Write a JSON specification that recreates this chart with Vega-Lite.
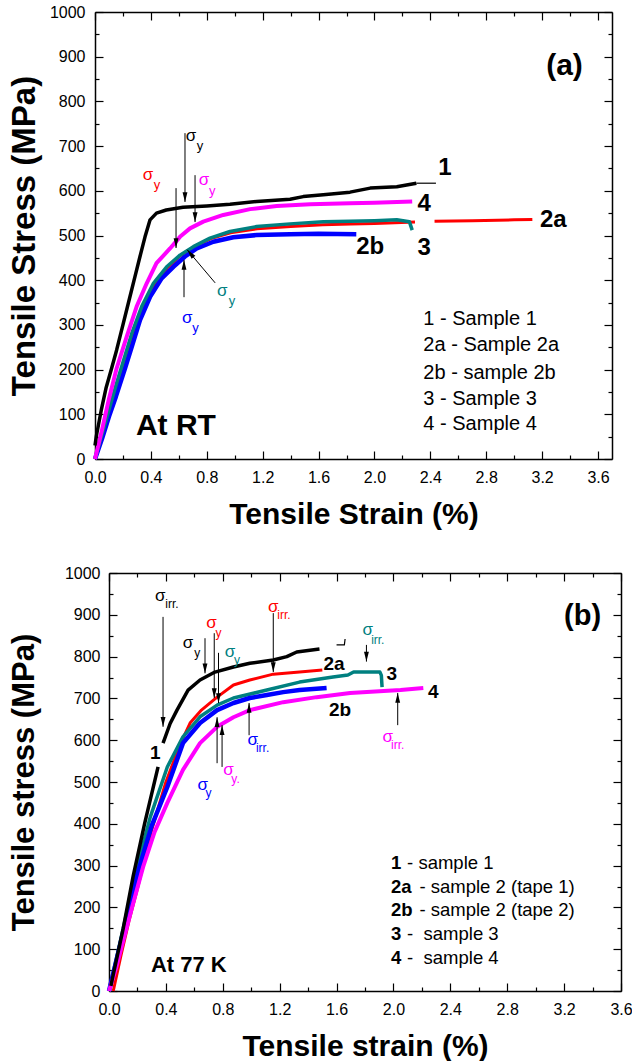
{
"$schema": "https://vega.github.io/schema/vega-lite/v6.json",
"padding": {"left": 1, "top": 4, "right": 0, "bottom": 0},
"background": "white",
"config": {"font": "Liberation Sans", "view": {"stroke": null},
  "axis": {"grid": false, "domainColor": "black", "tickColor": "black", "labelColor": "black", "titleColor": "black", "labelFont": "Liberation Sans", "titleFont": "Liberation Sans", "domainWidth": 1.5, "tickWidth": 1.2},
  "text": {"font": "Liberation Sans"}},
"datasets": {
"curves": [
{"p":"a","s":"2a","g":"2a","x":0,"y":0},{"p":"a","s":"2a","g":"2a","x":0.05,"y":45},{"p":"a","s":"2a","g":"2a","x":0.1,"y":100},{"p":"a","s":"2a","g":"2a","x":0.15,"y":155},{"p":"a","s":"2a","g":"2a","x":0.203,"y":207},{"p":"a","s":"2a","g":"2a","x":0.27,"y":275},{"p":"a","s":"2a","g":"2a","x":0.34,"y":335},{"p":"a","s":"2a","g":"2a","x":0.43,"y":390},{"p":"a","s":"2a","g":"2a","x":0.52,"y":428},{"p":"a","s":"2a","g":"2a","x":0.61,"y":455},{"p":"a","s":"2a","g":"2a","x":0.71,"y":475},{"p":"a","s":"2a","g":"2a","x":0.83,"y":493},{"p":"a","s":"2a","g":"2a","x":0.97,"y":506},{"p":"a","s":"2a","g":"2a","x":1.16,"y":515},{"p":"a","s":"2a","g":"2a","x":1.4,"y":520},{"p":"a","s":"2a","g":"2a","x":1.63,"y":524},{"p":"a","s":"2a","g":"2a","x":1.83,"y":526},{"p":"a","s":"2a","g":"2a","x":2.0,"y":527},{"p":"a","s":"2a","g":"2a","x":2.29,"y":530},
{"p":"a","s":"2a","g":"2a2","x":2.43,"y":532},{"p":"a","s":"2a","g":"2a2","x":2.7,"y":533},{"p":"a","s":"2a","g":"2a2","x":3.0,"y":535},{"p":"a","s":"2a","g":"2a2","x":3.13,"y":536},
{"p":"a","s":"2b","g":"2b","x":0,"y":0},{"p":"a","s":"2b","g":"2b","x":0.05,"y":45},{"p":"a","s":"2b","g":"2b","x":0.1,"y":95},{"p":"a","s":"2b","g":"2b","x":0.15,"y":140},{"p":"a","s":"2b","g":"2b","x":0.215,"y":203},{"p":"a","s":"2b","g":"2b","x":0.263,"y":251},{"p":"a","s":"2b","g":"2b","x":0.322,"y":311},{"p":"a","s":"2b","g":"2b","x":0.394,"y":363},{"p":"a","s":"2b","g":"2b","x":0.477,"y":404},{"p":"a","s":"2b","g":"2b","x":0.561,"y":430},{"p":"a","s":"2b","g":"2b","x":0.644,"y":453},{"p":"a","s":"2b","g":"2b","x":0.728,"y":471},{"p":"a","s":"2b","g":"2b","x":0.847,"y":486},{"p":"a","s":"2b","g":"2b","x":0.99,"y":496},{"p":"a","s":"2b","g":"2b","x":1.157,"y":501},{"p":"a","s":"2b","g":"2b","x":1.396,"y":503},{"p":"a","s":"2b","g":"2b","x":1.6,"y":504},{"p":"a","s":"2b","g":"2b","x":1.87,"y":503},
{"p":"a","s":"3","g":"3","x":0,"y":0},{"p":"a","s":"3","g":"3","x":0.05,"y":55},{"p":"a","s":"3","g":"3","x":0.1,"y":110},{"p":"a","s":"3","g":"3","x":0.15,"y":165},{"p":"a","s":"3","g":"3","x":0.191,"y":207},{"p":"a","s":"3","g":"3","x":0.263,"y":281},{"p":"a","s":"3","g":"3","x":0.334,"y":341},{"p":"a","s":"3","g":"3","x":0.418,"y":393},{"p":"a","s":"3","g":"3","x":0.513,"y":430},{"p":"a","s":"3","g":"3","x":0.608,"y":456},{"p":"a","s":"3","g":"3","x":0.704,"y":475},{"p":"a","s":"3","g":"3","x":0.823,"y":494},{"p":"a","s":"3","g":"3","x":0.966,"y":509},{"p":"a","s":"3","g":"3","x":1.157,"y":520},{"p":"a","s":"3","g":"3","x":1.396,"y":526},{"p":"a","s":"3","g":"3","x":1.634,"y":531},{"p":"a","s":"3","g":"3","x":1.825,"y":532},{"p":"a","s":"3","g":"3","x":2.0,"y":533},{"p":"a","s":"3","g":"3","x":2.16,"y":535},{"p":"a","s":"3","g":"3","x":2.25,"y":531},{"p":"a","s":"3","g":"3","x":2.27,"y":512},
{"p":"a","s":"4","g":"4","x":0,"y":0},{"p":"a","s":"4","g":"4","x":0.05,"y":65},{"p":"a","s":"4","g":"4","x":0.1,"y":135},{"p":"a","s":"4","g":"4","x":0.155,"y":203},{"p":"a","s":"4","g":"4","x":0.227,"y":274},{"p":"a","s":"4","g":"4","x":0.298,"y":341},{"p":"a","s":"4","g":"4","x":0.37,"y":393},{"p":"a","s":"4","g":"4","x":0.44,"y":438},{"p":"a","s":"4","g":"4","x":0.537,"y":471},{"p":"a","s":"4","g":"4","x":0.608,"y":497},{"p":"a","s":"4","g":"4","x":0.68,"y":516},{"p":"a","s":"4","g":"4","x":0.775,"y":531},{"p":"a","s":"4","g":"4","x":0.918,"y":546},{"p":"a","s":"4","g":"4","x":1.11,"y":559},{"p":"a","s":"4","g":"4","x":1.3,"y":566},{"p":"a","s":"4","g":"4","x":1.54,"y":570},{"p":"a","s":"4","g":"4","x":1.825,"y":572},{"p":"a","s":"4","g":"4","x":2.0,"y":573},{"p":"a","s":"4","g":"4","x":2.27,"y":576},
{"p":"a","s":"1","g":"1","x":0,"y":30},{"p":"a","s":"1","g":"1","x":0.01,"y":52},{"p":"a","s":"1","g":"1","x":0.044,"y":108},{"p":"a","s":"1","g":"1","x":0.08,"y":160},{"p":"a","s":"1","g":"1","x":0.119,"y":203},{"p":"a","s":"1","g":"1","x":0.155,"y":244},{"p":"a","s":"1","g":"1","x":0.203,"y":304},{"p":"a","s":"1","g":"1","x":0.25,"y":363},{"p":"a","s":"1","g":"1","x":0.286,"y":408},{"p":"a","s":"1","g":"1","x":0.322,"y":453},{"p":"a","s":"1","g":"1","x":0.358,"y":497},{"p":"a","s":"1","g":"1","x":0.394,"y":535},{"p":"a","s":"1","g":"1","x":0.44,"y":550},{"p":"a","s":"1","g":"1","x":0.51,"y":557},{"p":"a","s":"1","g":"1","x":0.63,"y":563},{"p":"a","s":"1","g":"1","x":0.8,"y":566},{"p":"a","s":"1","g":"1","x":0.966,"y":570},{"p":"a","s":"1","g":"1","x":1.157,"y":576},{"p":"a","s":"1","g":"1","x":1.396,"y":581},{"p":"a","s":"1","g":"1","x":1.49,"y":587},{"p":"a","s":"1","g":"1","x":1.634,"y":591},{"p":"a","s":"1","g":"1","x":1.825,"y":597},{"p":"a","s":"1","g":"1","x":1.97,"y":606},{"p":"a","s":"1","g":"1","x":2.16,"y":609},{"p":"a","s":"1","g":"1","x":2.3,"y":617},
{"p":"a","s":"1","g":"1t","x":2.3,"y":617},{"p":"a","s":"1","g":"1t","x":2.44,"y":617},
{"p":"b","s":"2a","g":"2a","x":0.03,"y":0},{"p":"b","s":"2a","g":"2a","x":0.085,"y":86},{"p":"b","s":"2a","g":"2a","x":0.14,"y":167},{"p":"b","s":"2a","g":"2a","x":0.2,"y":245},{"p":"b","s":"2a","g":"2a","x":0.3,"y":385},{"p":"b","s":"2a","g":"2a","x":0.4,"y":500},{"p":"b","s":"2a","g":"2a","x":0.5,"y":590},{"p":"b","s":"2a","g":"2a","x":0.57,"y":641},{"p":"b","s":"2a","g":"2a","x":0.65,"y":672},{"p":"b","s":"2a","g":"2a","x":0.76,"y":703},{"p":"b","s":"2a","g":"2a","x":0.875,"y":732},{"p":"b","s":"2a","g":"2a","x":0.99,"y":744},{"p":"b","s":"2a","g":"2a","x":1.155,"y":758},{"p":"b","s":"2a","g":"2a","x":1.34,"y":763},{"p":"b","s":"2a","g":"2a","x":1.5,"y":768},
{"p":"b","s":"3","g":"3","x":0,"y":0},{"p":"b","s":"3","g":"3","x":0.05,"y":75},{"p":"b","s":"3","g":"3","x":0.1,"y":150},{"p":"b","s":"3","g":"3","x":0.197,"y":297},{"p":"b","s":"3","g":"3","x":0.29,"y":416},{"p":"b","s":"3","g":"3","x":0.41,"y":536},{"p":"b","s":"3","g":"3","x":0.52,"y":608},{"p":"b","s":"3","g":"3","x":0.64,"y":656},{"p":"b","s":"3","g":"3","x":0.76,"y":684},{"p":"b","s":"3","g":"3","x":0.875,"y":701},{"p":"b","s":"3","g":"3","x":1.11,"y":720},{"p":"b","s":"3","g":"3","x":1.34,"y":739},{"p":"b","s":"3","g":"3","x":1.575,"y":751},{"p":"b","s":"3","g":"3","x":1.68,"y":756},{"p":"b","s":"3","g":"3","x":1.72,"y":763},{"p":"b","s":"3","g":"3","x":1.905,"y":763},{"p":"b","s":"3","g":"3","x":1.915,"y":755},{"p":"b","s":"3","g":"3","x":1.92,"y":727},
{"p":"b","s":"2b","g":"2b","x":0,"y":0},{"p":"b","s":"2b","g":"2b","x":0.1,"y":140},{"p":"b","s":"2b","g":"2b","x":0.2,"y":280},{"p":"b","s":"2b","g":"2b","x":0.3,"y":395},{"p":"b","s":"2b","g":"2b","x":0.41,"y":488},{"p":"b","s":"2b","g":"2b","x":0.52,"y":593},{"p":"b","s":"2b","g":"2b","x":0.64,"y":641},{"p":"b","s":"2b","g":"2b","x":0.76,"y":672},{"p":"b","s":"2b","g":"2b","x":0.875,"y":689},{"p":"b","s":"2b","g":"2b","x":0.99,"y":701},{"p":"b","s":"2b","g":"2b","x":1.11,"y":708},{"p":"b","s":"2b","g":"2b","x":1.225,"y":715},{"p":"b","s":"2b","g":"2b","x":1.34,"y":720},{"p":"b","s":"2b","g":"2b","x":1.53,"y":725},
{"p":"b","s":"4","g":"4","x":0,"y":0},{"p":"b","s":"4","g":"4","x":0.05,"y":55},{"p":"b","s":"4","g":"4","x":0.1,"y":120},{"p":"b","s":"4","g":"4","x":0.17,"y":210},{"p":"b","s":"4","g":"4","x":0.24,"y":297},{"p":"b","s":"4","g":"4","x":0.32,"y":380},{"p":"b","s":"4","g":"4","x":0.41,"y":450},{"p":"b","s":"4","g":"4","x":0.52,"y":529},{"p":"b","s":"4","g":"4","x":0.64,"y":593},{"p":"b","s":"4","g":"4","x":0.76,"y":632},{"p":"b","s":"4","g":"4","x":0.875,"y":655},{"p":"b","s":"4","g":"4","x":0.99,"y":672},{"p":"b","s":"4","g":"4","x":1.225,"y":691},{"p":"b","s":"4","g":"4","x":1.46,"y":703},{"p":"b","s":"4","g":"4","x":1.695,"y":713},{"p":"b","s":"4","g":"4","x":2.05,"y":720},{"p":"b","s":"4","g":"4","x":2.21,"y":725},
{"p":"b","s":"1","g":"1","x":0.013,"y":12},{"p":"b","s":"1","g":"1","x":0.1,"y":150},{"p":"b","s":"1","g":"1","x":0.17,"y":275},{"p":"b","s":"1","g":"1","x":0.25,"y":400},{"p":"b","s":"1","g":"1","x":0.345,"y":536},
{"p":"b","s":"1","g":"1b","x":0.38,"y":593},{"p":"b","s":"1","g":"1b","x":0.43,"y":640},{"p":"b","s":"1","g":"1b","x":0.478,"y":672},{"p":"b","s":"1","g":"1b","x":0.556,"y":720},{"p":"b","s":"1","g":"1b","x":0.64,"y":744},{"p":"b","s":"1","g":"1b","x":0.745,"y":763},{"p":"b","s":"1","g":"1b","x":0.875,"y":775},{"p":"b","s":"1","g":"1b","x":0.99,"y":784},{"p":"b","s":"1","g":"1b","x":1.155,"y":792},{"p":"b","s":"1","g":"1b","x":1.25,"y":800},{"p":"b","s":"1","g":"1b","x":1.32,"y":811},{"p":"b","s":"1","g":"1b","x":1.48,"y":818},
{"p":"b","s":"1","g":"1t","x":1.6,"y":828},{"p":"b","s":"1","g":"1t","x":1.655,"y":828},{"p":"b","s":"1","g":"1t","x":1.66,"y":842}
],
"arrows": [
{"p":"a","x":0.644,"y":729,"x2":0.644,"y2":575,"d":"down"},
{"p":"a","x":0.58,"y":606,"x2":0.58,"y2":472,"d":"down"},
{"p":"a","x":0.716,"y":635,"x2":0.716,"y2":530,"d":"down"},
{"p":"a","x":0.86,"y":394,"x2":0.66,"y2":468,"d":"ul"},
{"p":"a","x":0.637,"y":362,"x2":0.637,"y2":445,"d":"up"},
{"p":"b","x":0.38,"y":895,"x2":0.38,"y2":632,"d":"down"},
{"p":"b","x":0.675,"y":844,"x2":0.675,"y2":760,"d":"down"},
{"p":"b","x":0.74,"y":856,"x2":0.74,"y2":701,"d":"down"},
{"p":"b","x":0.77,"y":809,"x2":0.77,"y2":689,"d":"down"},
{"p":"b","x":1.155,"y":904,"x2":1.155,"y2":763,"d":"down"},
{"p":"b","x":1.81,"y":828,"x2":1.81,"y2":788,"d":"down"},
{"p":"b","x":2.03,"y":636,"x2":2.03,"y2":713,"d":"up"},
{"p":"b","x":0.76,"y":545,"x2":0.76,"y2":655,"d":"up"},
{"p":"b","x":0.795,"y":536,"x2":0.795,"y2":636,"d":"up"},
{"p":"b","x":0.985,"y":612,"x2":0.985,"y2":689,"d":"up"}
],
"sig": [
{"p":"a","s":"1","k":"m","x":0.687,"y":723,"t":"σ"},{"p":"a","s":"1","k":"s","x":0.752,"y":701,"t":"y"},
{"p":"a","s":"2a","k":"m","x":0.38,"y":635,"t":"σ"},{"p":"a","s":"2a","k":"s","x":0.444,"y":613,"t":"y"},
{"p":"a","s":"4","k":"m","x":0.78,"y":624,"t":"σ"},{"p":"a","s":"4","k":"s","x":0.84,"y":600,"t":"y"},
{"p":"a","s":"3","k":"m","x":0.91,"y":376,"t":"σ"},{"p":"a","s":"3","k":"s","x":0.98,"y":353,"t":"y"},
{"p":"a","s":"2b","k":"m","x":0.66,"y":315,"t":"σ"},{"p":"a","s":"2b","k":"s","x":0.72,"y":293,"t":"y"},
{"p":"b","s":"1","k":"m","x":0.36,"y":945,"t":"σ"},{"p":"b","s":"1","k":"s","x":0.443,"y":926,"t":"irr."},
{"p":"b","s":"1","k":"m","x":0.556,"y":832,"t":"σ"},{"p":"b","s":"1","k":"s","x":0.62,"y":809,"t":"y"},
{"p":"b","s":"2a","k":"m","x":0.72,"y":880,"t":"σ"},{"p":"b","s":"2a","k":"s","x":0.77,"y":856,"t":"y"},
{"p":"b","s":"3","k":"m","x":0.85,"y":811,"t":"σ"},{"p":"b","s":"3","k":"s","x":0.9,"y":792,"t":"y"},
{"p":"b","s":"2a","k":"m","x":1.155,"y":919,"t":"σ"},{"p":"b","s":"2a","k":"s","x":1.23,"y":900,"t":"irr."},
{"p":"b","s":"3","k":"m","x":1.82,"y":864,"t":"σ"},{"p":"b","s":"3","k":"s","x":1.89,"y":840,"t":"irr."},
{"p":"b","s":"4","k":"m","x":1.96,"y":608,"t":"σ"},{"p":"b","s":"4","k":"s","x":2.03,"y":589,"t":"irr."},
{"p":"b","s":"2b","k":"m","x":0.66,"y":493,"t":"σ"},{"p":"b","s":"2b","k":"s","x":0.7,"y":474,"t":"y"},
{"p":"b","s":"4","k":"m","x":0.84,"y":529,"t":"σ"},{"p":"b","s":"4","k":"s","x":0.89,"y":507,"t":"y."},
{"p":"b","s":"2b","k":"m","x":1.01,"y":600,"t":"σ"},{"p":"b","s":"2b","k":"s","x":1.08,"y":581,"t":"irr."}
],
"lab": [
{"p":"a","k":"cur","x":2.505,"y":650,"t":"1"},{"p":"a","k":"cur","x":2.355,"y":570,"t":"4"},{"p":"a","k":"cur","x":3.28,"y":535,"t":"2a"},{"p":"a","k":"cur","x":1.97,"y":474,"t":"2b"},{"p":"a","k":"cur","x":2.355,"y":471,"t":"3"},
{"p":"a","k":"leg","x":2.35,"y":313,"t":"1 - Sample 1"},{"p":"a","k":"leg","x":2.35,"y":255,"t":"2a - Sample 2a"},{"p":"a","k":"leg","x":2.35,"y":192,"t":"2b - sample 2b"},{"p":"a","k":"leg","x":2.35,"y":134,"t":"3 - Sample 3"},{"p":"a","k":"leg","x":2.35,"y":78,"t":"4 - Sample 4"},
{"p":"a","k":"tag","x":3.36,"y":879,"t":"(a)"},
{"p":"a","k":"at","x":0.293,"y":74,"t":"At RT"},
{"p":"b","k":"cur","x":0.326,"y":569,"t":"1"},{"p":"b","k":"cur","x":1.582,"y":782,"t":"2a"},{"p":"b","k":"cur","x":1.625,"y":672,"t":"2b"},{"p":"b","k":"cur","x":1.988,"y":759,"t":"3"},{"p":"b","k":"cur","x":2.28,"y":716,"t":"4"},
{"p":"b","k":"legb","x":1.983,"y":306,"t":"1"},{"p":"b","k":"legb","x":1.983,"y":249,"t":"2a"},{"p":"b","k":"legb","x":1.983,"y":194,"t":"2b"},{"p":"b","k":"legb","x":1.983,"y":136,"t":"3"},{"p":"b","k":"legb","x":1.983,"y":79,"t":"4"},
{"p":"b","k":"leg","x":2.096,"y":306,"t":"- sample 1"},{"p":"b","k":"leg","x":2.183,"y":249,"t":"- sample 2 (tape 1)"},{"p":"b","k":"leg","x":2.183,"y":194,"t":"- sample 2 (tape 2)"},{"p":"b","k":"leg","x":2.096,"y":136,"t":"- \u00a0sample 3"},{"p":"b","k":"leg","x":2.096,"y":79,"t":"- \u00a0sample 4"},
{"p":"b","k":"tag","x":3.33,"y":897,"t":"(b)"},
{"p":"b","k":"at","x":0.295,"y":62,"t":"At 77 K"}
]
},
"spacing": 36,
"vconcat": [
{"spacing": 0, "hconcat": [
 {"width": 1, "height": 1, "data": {"values": [{"a": 0}]}, "mark": {"type": "point", "opacity": 0}, "encoding": {}},
 {"width": 517, "height": 447,
  "resolve": {"axis": {"x": "independent", "y": "independent"}},
  "layer": [
   {"data": {"name": "curves"}, "transform": [{"filter": "datum.p == 'a'"}],
    "mark": {"type": "line", "strokeJoin": "round"},
    "encoding": {
     "x": {"field": "x", "type": "quantitative", "scale": {"domain": [0, 3.7], "nice": false, "zero": false},
       "axis": {"orient": "bottom", "values": [0,0.2,0.4,0.6,0.8,1,1.2,1.4,1.6,1.8,2,2.2,2.4,2.6,2.8,3,3.2,3.4,3.6],
         "labelExpr": "round(datum.value*10) % 4 == 0 ? format(datum.value, '.1f') : ''",
         "tickSize": {"condition": {"test": "round(datum.value*10) % 4 == 0", "value": -8}, "value": -4},
         "labelPadding": 18, "labelFontSize": 16, "labelFlush": false, "labelOverlap": false,
         "title": "Tensile Strain (%)", "titleFontSize": 30, "titleFontWeight": "bold", "titlePadding": 10}},
     "y": {"field": "y", "type": "quantitative", "scale": {"domain": [0, 1000], "nice": false},
       "axis": {"orient": "left", "values": [0,50,100,150,200,250,300,350,400,450,500,550,600,650,700,750,800,850,900,950,1000],
         "labelExpr": "datum.value % 100 == 0 ? format(datum.value, 'd') : ''",
         "tickSize": {"condition": {"test": "datum.value % 100 == 0", "value": -8}, "value": -4},
         "labelPadding": 18, "labelFontSize": 16, "labelOverlap": false,
         "title": "Tensile Stress (MPa)", "titleFontSize": 33, "titleFontWeight": "bold", "titlePadding": 8}},
     "color": {"field": "s", "type": "nominal", "scale": {"domain": ["1","2a","2b","3","4"], "range": ["#000000","#ff0000","#0000ff","#008080","#ff00ff"]}, "legend": null},
     "strokeWidth": {"field": "g", "type": "nominal", "scale": {"type": "ordinal", "domain": ["1","1t","2a","2a2","2b","3","4"], "range": [3.5,1.2,3,3,4.5,3.5,4]}, "legend": null},
     "detail": {"field": "g"}
    }},
   {"data": {"name": "arrows"}, "transform": [{"filter": "datum.p == 'a'"}],
    "mark": {"type": "rule", "color": "black", "strokeWidth": 1},
    "encoding": {
     "x": {"field": "x", "type": "quantitative", "scale": {"domain": [0, 3.7], "nice": false, "zero": false},
       "axis": {"orient": "top", "values": [0,0.2,0.4,0.6,0.8,1,1.2,1.4,1.6,1.8,2,2.2,2.4,2.6,2.8,3,3.2,3.4,3.6], "labels": false, "title": null,
         "tickSize": {"condition": {"test": "round(datum.value*10) % 4 == 0", "value": -8}, "value": -4}}},
     "y": {"field": "y", "type": "quantitative", "scale": {"domain": [0, 1000], "nice": false},
       "axis": {"orient": "right", "values": [0,50,100,150,200,250,300,350,400,450,500,550,600,650,700,750,800,850,900,950,1000], "labels": false, "title": null,
         "tickSize": {"condition": {"test": "datum.value % 100 == 0", "value": -8}, "value": -4}}},
     "x2": {"field": "x2"}, "y2": {"field": "y2"}
    }},
   {"data": {"name": "arrows"}, "transform": [{"filter": "datum.p == 'a'"}],
    "mark": {"type": "point", "filled": true, "color": "black", "opacity": 1, "size": 380, "shape": "M0,0L-0.25,-1L0.25,-1Z"},
    "encoding": {
     "x": {"field": "x2", "type": "quantitative", "scale": {"domain": [0, 3.7], "nice": false, "zero": false}, "axis": null},
     "y": {"field": "y2", "type": "quantitative", "scale": {"domain": [0, 1000], "nice": false}, "axis": null},
     "angle": {"field": "d", "type": "nominal", "scale": {"type": "ordinal", "domain": ["down","up","ul"], "range": [0,180,140]}, "legend": null}
    }},
   {"data": {"name": "sig"}, "transform": [{"filter": "datum.p == 'a' && datum.k == 'm'"}],
    "mark": {"type": "text", "fontSize": 17, "align": "center", "baseline": "middle"},
    "encoding": {
     "x": {"field": "x", "type": "quantitative", "scale": {"domain": [0, 3.7], "nice": false, "zero": false}, "axis": null},
     "y": {"field": "y", "type": "quantitative", "scale": {"domain": [0, 1000], "nice": false}, "axis": null},
     "text": {"field": "t"},
     "color": {"field": "s", "type": "nominal", "scale": {"domain": ["1","2a","2b","3","4"], "range": ["#000000","#ff0000","#0000ff","#008080","#ff00ff"]}, "legend": null}
    }},
   {"data": {"name": "sig"}, "transform": [{"filter": "datum.p == 'a' && datum.k == 's'"}],
    "mark": {"type": "text", "fontSize": 13, "align": "center", "baseline": "middle"},
    "encoding": {
     "x": {"field": "x", "type": "quantitative", "scale": {"domain": [0, 3.7], "nice": false, "zero": false}, "axis": null},
     "y": {"field": "y", "type": "quantitative", "scale": {"domain": [0, 1000], "nice": false}, "axis": null},
     "text": {"field": "t"},
     "color": {"field": "s", "type": "nominal", "scale": {"domain": ["1","2a","2b","3","4"], "range": ["#000000","#ff0000","#0000ff","#008080","#ff00ff"]}, "legend": null}
    }},
   {"data": {"name": "lab"}, "transform": [{"filter": "datum.p == 'a' && datum.k == 'cur'"}],
    "mark": {"type": "text", "fontSize": 24, "fontWeight": "bold", "align": "center", "baseline": "middle", "color": "black"},
    "encoding": {
     "x": {"field": "x", "type": "quantitative", "scale": {"domain": [0, 3.7], "nice": false, "zero": false}, "axis": null},
     "y": {"field": "y", "type": "quantitative", "scale": {"domain": [0, 1000], "nice": false}, "axis": null},
     "text": {"field": "t"}}},
   {"data": {"name": "lab"}, "transform": [{"filter": "datum.p == 'a' && datum.k == 'leg'"}],
    "mark": {"type": "text", "fontSize": 20, "align": "left", "baseline": "middle", "color": "black"},
    "encoding": {
     "x": {"field": "x", "type": "quantitative", "scale": {"domain": [0, 3.7], "nice": false, "zero": false}, "axis": null},
     "y": {"field": "y", "type": "quantitative", "scale": {"domain": [0, 1000], "nice": false}, "axis": null},
     "text": {"field": "t"}}},
   {"data": {"name": "lab"}, "transform": [{"filter": "datum.p == 'a' && datum.k == 'tag'"}],
    "mark": {"type": "text", "fontSize": 30, "fontWeight": "bold", "align": "center", "baseline": "middle", "color": "black"},
    "encoding": {
     "x": {"field": "x", "type": "quantitative", "scale": {"domain": [0, 3.7], "nice": false, "zero": false}, "axis": null},
     "y": {"field": "y", "type": "quantitative", "scale": {"domain": [0, 1000], "nice": false}, "axis": null},
     "text": {"field": "t"}}},
   {"data": {"name": "lab"}, "transform": [{"filter": "datum.p == 'a' && datum.k == 'at'"}],
    "mark": {"type": "text", "fontSize": 30, "fontWeight": "bold", "align": "left", "baseline": "middle", "color": "black"},
    "encoding": {
     "x": {"field": "x", "type": "quantitative", "scale": {"domain": [0, 3.7], "nice": false, "zero": false}, "axis": null},
     "y": {"field": "y", "type": "quantitative", "scale": {"domain": [0, 1000], "nice": false}, "axis": null},
     "text": {"field": "t"}}}
  ]}
]},
{"spacing": 0, "hconcat": [
 {"width": 1, "height": 1, "data": {"values": [{"a": 0}]}, "mark": {"type": "point", "opacity": 0}, "encoding": {}},
 {"width": 512, "height": 418,
  "resolve": {"axis": {"x": "independent", "y": "independent"}},
  "layer": [
   {"data": {"name": "curves"}, "transform": [{"filter": "datum.p == 'b'"}],
    "mark": {"type": "line", "strokeJoin": "round"},
    "encoding": {
     "x": {"field": "x", "type": "quantitative", "scale": {"domain": [0, 3.6], "nice": false, "zero": false},
       "axis": {"orient": "bottom", "values": [0,0.2,0.4,0.6,0.8,1,1.2,1.4,1.6,1.8,2,2.2,2.4,2.6,2.8,3,3.2,3.4,3.6],
         "labelExpr": "round(datum.value*10) % 4 == 0 ? format(datum.value, '.1f') : ''",
         "tickSize": {"condition": {"test": "round(datum.value*10) % 4 == 0", "value": -8}, "value": -4},
         "labelPadding": 18, "labelFontSize": 16, "labelFlush": false, "labelOverlap": false,
         "title": "Tensile strain (%)", "titleFontSize": 30, "titleFontWeight": "bold", "titlePadding": 10}},
     "y": {"field": "y", "type": "quantitative", "scale": {"domain": [0, 1000], "nice": false},
       "axis": {"orient": "left", "values": [0,50,100,150,200,250,300,350,400,450,500,550,600,650,700,750,800,850,900,950,1000],
         "labelExpr": "datum.value % 100 == 0 ? format(datum.value, 'd') : ''",
         "tickSize": {"condition": {"test": "datum.value % 100 == 0", "value": -8}, "value": -4},
         "labelPadding": 17, "labelFontSize": 16, "labelOverlap": false,
         "title": "Tensile stress (MPa)", "titleFontSize": 31, "titleFontWeight": "bold", "titlePadding": 24}},
     "color": {"field": "s", "type": "nominal", "scale": {"domain": ["1","2a","2b","3","4"], "range": ["#000000","#ff0000","#0000ff","#008080","#ff00ff"]}, "legend": null},
     "strokeWidth": {"field": "g", "type": "nominal", "scale": {"type": "ordinal", "domain": ["1","1b","1t","2a","2b","3","4"], "range": [4.5,4.5,3,5,5.5,4,5]}, "legend": null},
     "detail": {"field": "g"}
    }},
   {"data": {"name": "arrows"}, "transform": [{"filter": "datum.p == 'b'"}],
    "mark": {"type": "rule", "color": "black", "strokeWidth": 1},
    "encoding": {
     "x": {"field": "x", "type": "quantitative", "scale": {"domain": [0, 3.6], "nice": false, "zero": false},
       "axis": {"orient": "top", "values": [0,0.2,0.4,0.6,0.8,1,1.2,1.4,1.6,1.8,2,2.2,2.4,2.6,2.8,3,3.2,3.4,3.6], "labels": false, "title": null,
         "tickSize": {"condition": {"test": "round(datum.value*10) % 4 == 0", "value": -8}, "value": -4}}},
     "y": {"field": "y", "type": "quantitative", "scale": {"domain": [0, 1000], "nice": false},
       "axis": {"orient": "right", "values": [0,50,100,150,200,250,300,350,400,450,500,550,600,650,700,750,800,850,900,950,1000], "labels": false, "title": null,
         "tickSize": {"condition": {"test": "datum.value % 100 == 0", "value": -8}, "value": -4}}},
     "x2": {"field": "x2"}, "y2": {"field": "y2"}
    }},
   {"data": {"name": "arrows"}, "transform": [{"filter": "datum.p == 'b'"}],
    "mark": {"type": "point", "filled": true, "color": "black", "opacity": 1, "size": 380, "shape": "M0,0L-0.25,-1L0.25,-1Z"},
    "encoding": {
     "x": {"field": "x2", "type": "quantitative", "scale": {"domain": [0, 3.6], "nice": false, "zero": false}, "axis": null},
     "y": {"field": "y2", "type": "quantitative", "scale": {"domain": [0, 1000], "nice": false}, "axis": null},
     "angle": {"field": "d", "type": "nominal", "scale": {"type": "ordinal", "domain": ["down","up","ul"], "range": [0,180,140]}, "legend": null}
    }},
   {"data": {"name": "sig"}, "transform": [{"filter": "datum.p == 'b' && datum.k == 'm'"}],
    "mark": {"type": "text", "fontSize": 17, "align": "center", "baseline": "middle"},
    "encoding": {
     "x": {"field": "x", "type": "quantitative", "scale": {"domain": [0, 3.6], "nice": false, "zero": false}, "axis": null},
     "y": {"field": "y", "type": "quantitative", "scale": {"domain": [0, 1000], "nice": false}, "axis": null},
     "text": {"field": "t"},
     "color": {"field": "s", "type": "nominal", "scale": {"domain": ["1","2a","2b","3","4"], "range": ["#000000","#ff0000","#0000ff","#008080","#ff00ff"]}, "legend": null}
    }},
   {"data": {"name": "sig"}, "transform": [{"filter": "datum.p == 'b' && datum.k == 's'"}],
    "mark": {"type": "text", "fontSize": 12, "align": "center", "baseline": "middle"},
    "encoding": {
     "x": {"field": "x", "type": "quantitative", "scale": {"domain": [0, 3.6], "nice": false, "zero": false}, "axis": null},
     "y": {"field": "y", "type": "quantitative", "scale": {"domain": [0, 1000], "nice": false}, "axis": null},
     "text": {"field": "t"},
     "color": {"field": "s", "type": "nominal", "scale": {"domain": ["1","2a","2b","3","4"], "range": ["#000000","#ff0000","#0000ff","#008080","#ff00ff"]}, "legend": null}
    }},
   {"data": {"name": "lab"}, "transform": [{"filter": "datum.p == 'b' && datum.k == 'cur'"}],
    "mark": {"type": "text", "fontSize": 19, "fontWeight": "bold", "align": "center", "baseline": "middle", "color": "black"},
    "encoding": {
     "x": {"field": "x", "type": "quantitative", "scale": {"domain": [0, 3.6], "nice": false, "zero": false}, "axis": null},
     "y": {"field": "y", "type": "quantitative", "scale": {"domain": [0, 1000], "nice": false}, "axis": null},
     "text": {"field": "t"}}},
   {"data": {"name": "lab"}, "transform": [{"filter": "datum.p == 'b' && datum.k == 'legb'"}],
    "mark": {"type": "text", "fontSize": 18.5, "fontWeight": "bold", "align": "left", "baseline": "middle", "color": "black"},
    "encoding": {
     "x": {"field": "x", "type": "quantitative", "scale": {"domain": [0, 3.6], "nice": false, "zero": false}, "axis": null},
     "y": {"field": "y", "type": "quantitative", "scale": {"domain": [0, 1000], "nice": false}, "axis": null},
     "text": {"field": "t"}}},
   {"data": {"name": "lab"}, "transform": [{"filter": "datum.p == 'b' && datum.k == 'leg'"}],
    "mark": {"type": "text", "fontSize": 18.5, "align": "left", "baseline": "middle", "color": "black"},
    "encoding": {
     "x": {"field": "x", "type": "quantitative", "scale": {"domain": [0, 3.6], "nice": false, "zero": false}, "axis": null},
     "y": {"field": "y", "type": "quantitative", "scale": {"domain": [0, 1000], "nice": false}, "axis": null},
     "text": {"field": "t"}}},
   {"data": {"name": "lab"}, "transform": [{"filter": "datum.p == 'b' && datum.k == 'tag'"}],
    "mark": {"type": "text", "fontSize": 29, "fontWeight": "bold", "align": "center", "baseline": "middle", "color": "black"},
    "encoding": {
     "x": {"field": "x", "type": "quantitative", "scale": {"domain": [0, 3.6], "nice": false, "zero": false}, "axis": null},
     "y": {"field": "y", "type": "quantitative", "scale": {"domain": [0, 1000], "nice": false}, "axis": null},
     "text": {"field": "t"}}},
   {"data": {"name": "lab"}, "transform": [{"filter": "datum.p == 'b' && datum.k == 'at'"}],
    "mark": {"type": "text", "fontSize": 22, "fontWeight": "bold", "align": "left", "baseline": "middle", "color": "black"},
    "encoding": {
     "x": {"field": "x", "type": "quantitative", "scale": {"domain": [0, 3.6], "nice": false, "zero": false}, "axis": null},
     "y": {"field": "y", "type": "quantitative", "scale": {"domain": [0, 1000], "nice": false}, "axis": null},
     "text": {"field": "t"}}}
  ]}
]}
]
}
